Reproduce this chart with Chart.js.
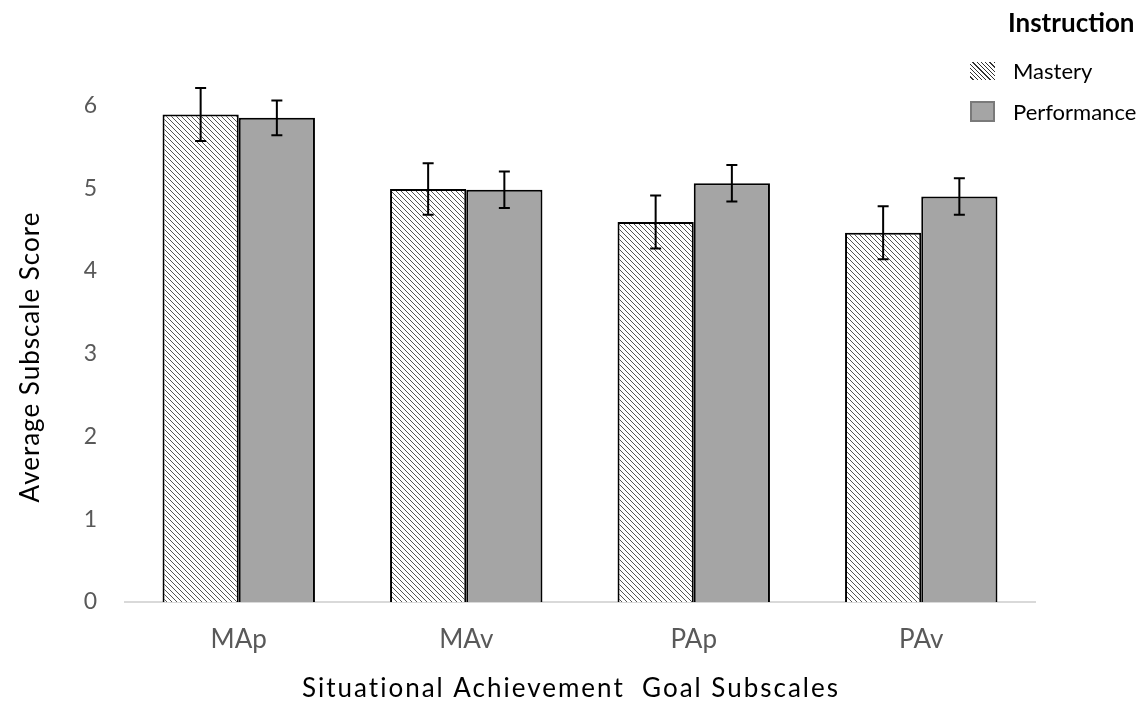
<!DOCTYPE html>
<html>
<head>
<meta charset="utf-8">
<script src="https://cdn.jsdelivr.net/npm/chart.js@4.4.0/dist/chart.umd.min.js"></script>
<style>
  html, body { margin: 0; padding: 0; background: #fff; }
  #wrap { position: relative; width: 1144px; height: 704px; }
  #legend { position: absolute; left: 970px; top: 6px; font-family: Lato, sans-serif; color: #000; }
  #legend .title { font-weight: bold; font-size: 26px; margin-left: 38px; margin-bottom: 12px; }
  #legend .item { display: flex; align-items: center; font-size: 22px; height: 41px; }
  #legend .sw { width: 25px; height: 18px; margin-right: 18px; box-sizing: border-box; }
  #legend .sw.m { background: repeating-linear-gradient(45deg, #fff 0 2px, #333 2px 3px); }
  #legend .sw.p { background: #a5a5a5; border: 2px solid #7a7a7a; height: 21px; }
</style>
</head>
<body>
<div id="wrap">
  <canvas id="chart" width="1144" height="704"></canvas>
  <div id="legend">
    <div class="title">Instruction</div>
    <div class="item"><div class="sw m"></div>Mastery</div>
    <div class="item"><div class="sw p"></div>Performance</div>
  </div>
</div>
<script>
const categories = ['MAp', 'MAv', 'PAp', 'PAv'];
const masteryMeans = [5.89, 4.99, 4.59, 4.46];
const masteryErr = [0.32, 0.31, 0.32, 0.32];
const performanceMeans = [5.85, 4.98, 5.06, 4.90];
const performanceErr = [0.21, 0.22, 0.22, 0.22];
const yTicks = [0, 1, 2, 3, 4, 5, 6];
const xTitle = 'Situational Achievement  Goal Subscales';
const yTitle = 'Average Subscale Score';

function hatch() {
  const c = document.createElement('canvas');
  c.width = 5; c.height = 5;
  const g = c.getContext('2d');
  g.fillStyle = '#fff';
  g.fillRect(0, 0, 5, 5);
  g.strokeStyle = '#555';
  g.lineWidth = 1;
  g.beginPath();
  g.moveTo(0, 0); g.lineTo(5, 5);
  g.moveTo(-1, 4); g.lineTo(1, 6);
  g.moveTo(4, -1); g.lineTo(6, 1);
  g.stroke();
  return g.createPattern(c, 'repeat');
}

const errorBars = {
  id: 'errorBars',
  afterDatasetsDraw(chart) {
    const ctx = chart.ctx;
    const y = chart.scales.y;
    ctx.save();
    ctx.strokeStyle = '#000';
    ctx.lineWidth = 2;
    chart.data.datasets.forEach((ds, i) => {
      chart.getDatasetMeta(i).data.forEach((bar, j) => {
        const hi = y.getPixelForValue(ds.data[j] + ds.err[j]);
        const lo = y.getPixelForValue(ds.data[j] - ds.err[j]);
        const x = bar.x;
        ctx.beginPath();
        ctx.moveTo(x, hi); ctx.lineTo(x, lo);
        ctx.moveTo(x - 5.5, hi); ctx.lineTo(x + 5.5, hi);
        ctx.moveTo(x - 5.5, lo); ctx.lineTo(x + 5.5, lo);
        ctx.stroke();
      });
    });
    ctx.restore();
  }
};

// axis titles drawn by hand so they can get Excel-like letter spacing
const axisTitles = {
  id: 'axisTitles',
  afterDraw(chart) {
    const { ctx, chartArea: a } = chart;
    ctx.save();
    ctx.fillStyle = '#000';
    ctx.font = '26px Lato';
    ctx.textAlign = 'center';
    ctx.textBaseline = 'middle';
    ctx.letterSpacing = '2px';
    ctx.fillText(xTitle, (a.left + a.right) / 2 - 9, chart.height - 15);
    ctx.letterSpacing = '1px';
    ctx.translate(31, (a.top + a.bottom) / 2 + 24);
    ctx.rotate(-Math.PI / 2);
    ctx.fillText(yTitle, 0, 0);
    ctx.restore();
  }
};

new Chart(document.getElementById('chart'), {
  type: 'bar',
  data: {
    labels: categories,
    datasets: [
      { label: 'Mastery', data: masteryMeans, err: masteryErr, backgroundColor: hatch(),
        borderColor: '#000', borderWidth: 2, borderSkipped: 'bottom' },
      { label: 'Performance', data: performanceMeans, err: performanceErr, backgroundColor: '#a5a5a5',
        borderColor: '#000', borderWidth: 2, borderSkipped: 'bottom' },
    ],
  },
  plugins: [errorBars, axisTitles],
  options: {
    responsive: false,
    animation: false,
    layout: { padding: { top: 64, right: 109, left: 0, bottom: 0 } },
    datasets: { bar: { barPercentage: 1, categoryPercentage: 0.67 } },
    plugins: { legend: { display: false }, tooltip: { enabled: false } },
    scales: {
      x: {
        grid: { display: false, drawTicks: false },
        border: { display: true, color: '#d9d9d9', width: 2 },
        ticks: { color: '#595959', font: { family: 'Lato', size: 26 }, padding: 22 },
        afterFit(s) { s.height = 102; },
      },
      y: {
        min: 0, max: 6.5,
        grid: { display: false, drawTicks: false },
        border: { display: false },
        ticks: { color: '#595959', font: { family: 'Lato', size: 23 }, padding: 28, stepSize: 1 },
        afterBuildTicks(s) { s.ticks = yTicks.map(v => ({ value: v })); },
        afterFit(s) { s.width = 125; },
      },
    },
  },
});
</script>
</body>
</html>
